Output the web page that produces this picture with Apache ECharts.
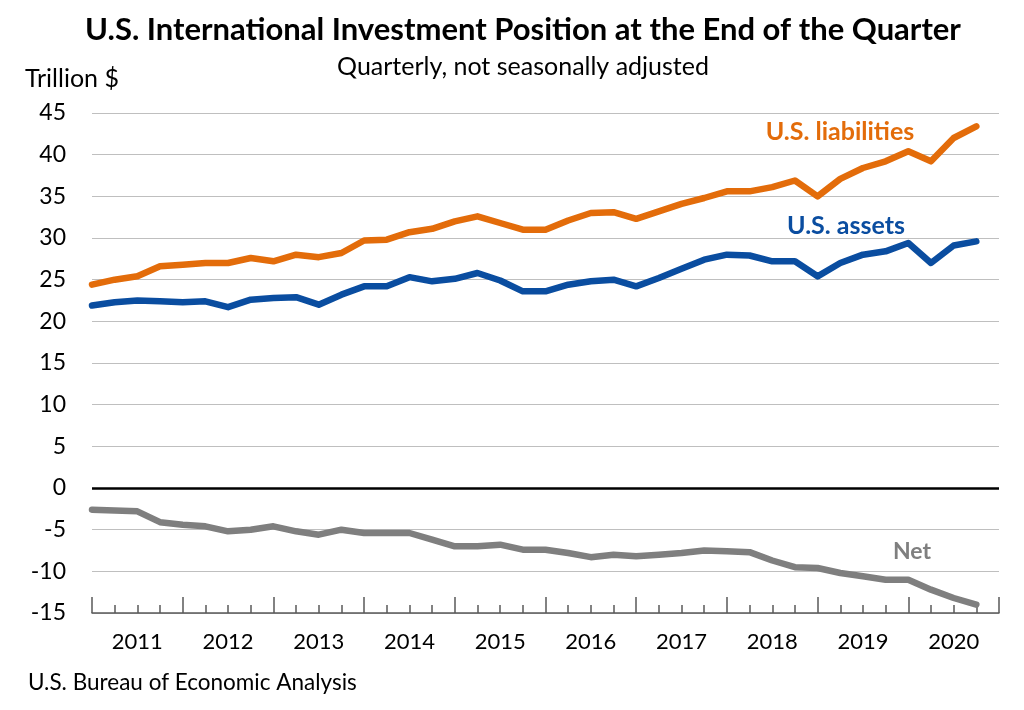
<!DOCTYPE html>
<html>
<head>
<meta charset="utf-8">
<title>U.S. International Investment Position</title>
<script src="https://cdn.jsdelivr.net/npm/echarts@6/dist/echarts.min.js"></script>
<style>
  html, body { margin: 0; padding: 0; background: #fff; }
  #chart { width: 1024px; height: 710px; }
</style>
</head>
<body>
<div id="chart"></div>
<script>
// quarters: end of 2010Q4 ... 2020Q3 (the axis runs one quarter further, to end of 2020)
const quarters = [
  '2010Q4',
  '2011Q1', '2011Q2', '2011Q3', '2011Q4',
  '2012Q1', '2012Q2', '2012Q3', '2012Q4',
  '2013Q1', '2013Q2', '2013Q3', '2013Q4',
  '2014Q1', '2014Q2', '2014Q3', '2014Q4',
  '2015Q1', '2015Q2', '2015Q3', '2015Q4',
  '2016Q1', '2016Q2', '2016Q3', '2016Q4',
  '2017Q1', '2017Q2', '2017Q3', '2017Q4',
  '2018Q1', '2018Q2', '2018Q3', '2018Q4',
  '2019Q1', '2019Q2', '2019Q3', '2019Q4',
  '2020Q1', '2020Q2', '2020Q3'
];
const years = ['2011', '2012', '2013', '2014', '2015', '2016', '2017', '2018', '2019', '2020'];

// trillion $
const liabilities = [
  24.4, 25.0, 25.4, 26.6, 26.8, 27.0, 27.0, 27.6, 27.2, 28.0,
  27.7, 28.2, 29.7, 29.8, 30.7, 31.1, 32.0, 32.6, 31.8, 31.0,
  31.0, 32.1, 33.0, 33.1, 32.3, 33.2, 34.1, 34.8, 35.6, 35.6,
  36.1, 36.9, 35.0, 37.1, 38.4, 39.2, 40.4, 39.2, 42.0, 43.4
];
const assets = [
  21.9, 22.3, 22.5, 22.4, 22.3, 22.4, 21.7, 22.6, 22.8, 22.9,
  22.0, 23.2, 24.2, 24.2, 25.3, 24.8, 25.1, 25.8, 24.9, 23.6,
  23.6, 24.4, 24.8, 25.0, 24.2, 25.2, 26.3, 27.4, 28.0, 27.9,
  27.2, 27.2, 25.4, 27.0, 28.0, 28.4, 29.4, 27.0, 29.1, 29.6
];
const net = [
  -2.6, -2.7, -2.8, -4.1, -4.4, -4.6, -5.2, -5.0, -4.6, -5.2,
  -5.6, -5.0, -5.4, -5.4, -5.4, -6.2, -7.0, -7.0, -6.8, -7.4,
  -7.4, -7.8, -8.3, -8.0, -8.2, -8.0, -7.8, -7.5, -7.6, -7.7,
  -8.7, -9.5, -9.6, -10.2, -10.6, -11.0, -11.0, -12.2, -13.2, -14.0
];

const FONT = 'Lato, "Open Sans", sans-serif';
const ORANGE = '#E36C0A';
const BLUE = '#0A4DA0';
const GREY = '#7F7F7F';

const toPoints = (arr) => arr.map((v, i) => [i, v]);

const chart = echarts.init(document.getElementById('chart'), null, { renderer: 'canvas' });

const lineSeries = (name, data, color) => ({
  name,
  type: 'line',
  xAxisIndex: 0,
  yAxisIndex: 0,
  data: toPoints(data),
  showSymbol: false,
  symbol: 'none',
  lineStyle: { color, width: 6.5, cap: 'round', join: 'round' },
  itemStyle: { color },
  silent: true,
  animation: false,
  z: 3
});

const textEl = (text, x, y, size, color, weight, align) => ({
  type: 'text',
  x,
  y,
  silent: true,
  style: {
    text,
    fill: color,
    font: `${weight} ${size}px ${FONT}`,
    align: align,
    textAlign: align,
    verticalAlign: 'middle',
    textVerticalAlign: 'middle'
  }
});

const option = {
  animation: false,
  backgroundColor: '#fff',
  textStyle: { fontFamily: FONT },
  grid: { left: 92, right: 25, top: 113, bottom: 97, containLabel: false },
  xAxis: [
    {
      // quarterly ticks, longer at year boundaries
      type: 'value',
      position: 'bottom',
      min: 0,
      max: quarters.length,
      interval: 4,
      axisLine: { show: true, onZero: false, lineStyle: { color: '#595959', width: 1.5 } },
      axisTick: { show: true, inside: true, length: 16, lineStyle: { color: '#595959', width: 1.5 } },
      minorTick: { show: true, splitNumber: 4, length: 8, lineStyle: { color: '#595959', width: 1.5 } },
      axisLabel: { show: false },
      splitLine: { show: false }
    },
    {
      // year labels centred between year ticks
      type: 'category',
      position: 'bottom',
      data: years,
      boundaryGap: true,
      axisLine: { show: false, onZero: false },
      axisTick: { show: false },
      axisLabel: { color: '#000', fontSize: 22, fontFamily: FONT, margin: 18 },
      splitLine: { show: false }
    }
  ],
  yAxis: {
    type: 'value',
    min: -15,
    max: 45,
    interval: 5,
    axisLine: { show: false },
    axisTick: { show: false },
    axisLabel: { color: '#000', fontSize: 23, fontFamily: FONT, margin: 26 },
    splitLine: { show: true, lineStyle: { color: '#BFBFBF', width: 1.2 } }
  },
  series: [
    lineSeries('U.S. liabilities', liabilities, ORANGE),
    lineSeries('U.S. assets', assets, BLUE),
    Object.assign(lineSeries('Net', net, GREY), {
      markLine: {
        silent: true,
        symbol: 'none',
        label: { show: false },
        lineStyle: { color: '#000', width: 2.5, type: 'solid' },
        data: [{ yAxis: 0 }],
        z: 2
      }
    })
  ],
  graphic: [
    textEl('U.S. International Investment Position at the End of the Quarter', 523, 30, 31, '#000', 'bold', 'center'),
    textEl('Quarterly, not seasonally adjusted', 523, 67, 25, '#000', 'normal', 'center'),
    textEl('Trillion $', 25, 79, 25, '#000', 'normal', 'left'),
    textEl('U.S. liabilities', 840, 132, 25, ORANGE, 'bold', 'center'),
    textEl('U.S. assets', 846, 226, 25, BLUE, 'bold', 'center'),
    textEl('Net', 912, 552, 23, GREY, 'bold', 'center'),
    textEl('U.S. Bureau of Economic Analysis', 28, 683, 22.5, '#000', 'normal', 'left')
  ]
};

chart.setOption(option);
</script>
</body>
</html>
